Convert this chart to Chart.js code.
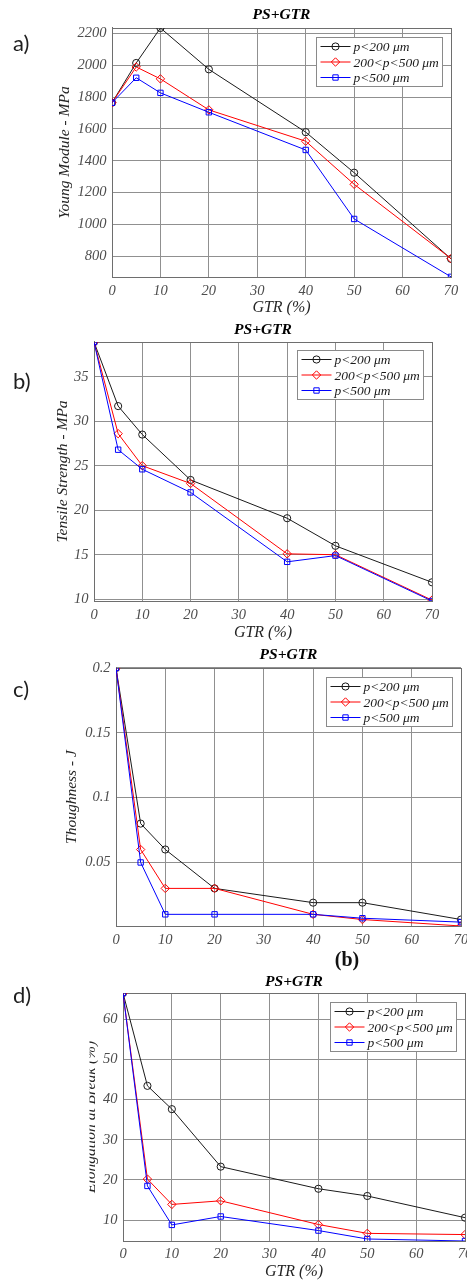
<!DOCTYPE html>
<html>
<head>
<meta charset="utf-8">
<script src="https://cdn.jsdelivr.net/npm/chart.js@4.4.1/dist/chart.umd.min.js"></script>
<style>
  body { margin: 0; background: #fff; }
  #page { position: relative; width: 467px; height: 1280px; overflow: hidden; background: #fff; }
  #page canvas { position: absolute; left: 0; }
  .tag { position: absolute; left: 13px; font: 22px Lato, "Noto Sans", sans-serif; line-height: 22px; color: #1e1e1e; }
  .sub { position: absolute; font: bold 20px "Liberation Serif", serif; line-height: 20px; color: #111;
         transform: translate(-50%, -50%); }
</style>
</head>
<body>
<div id="page">
  <canvas id="young" width="467" height="320" style="top:0px"></canvas>
  <canvas id="tensile" width="467" height="320" style="top:320px"></canvas>
  <canvas id="tough" width="467" height="320" style="top:640px"></canvas>
  <canvas id="elong" width="467" height="320" style="top:960px"></canvas>
  <div class="tag" style="top:32px">a)</div>
  <div class="tag" style="top:370px">b)</div>
  <div class="tag" style="top:678px">c)</div>
  <div class="tag" style="top:984px">d)</div>
  <div class="sub" style="left:347px;top:959px">(b)</div>
</div>
<script>
// GTR content (%) of each blend
const gtrContent = [0, 5, 10, 20, 40, 50, 70];
const gtrTicks = [0, 10, 20, 30, 40, 50, 60, 70];

// particle size series
const sizeLabels = ['p<200 \u03bcm', '200<p<500 \u03bcm', 'p<500 \u03bcm'];
const sizeColors = ['#1a1a1a', '#ff0000', '#0000ff'];
const sizeMarkers = ['circle', 'rectRot', 'rect'];
const sizeMarkerRadius = [3.6, 4.2, 3.8];

// a) Young modulus (MPa)
const youngSmall = [1765, 2015, 2235, 1975, 1580, 1325, 783];
const youngMid = [1765, 1990, 1915, 1720, 1523, 1252, 785];
const youngLarge = [1765, 1922, 1827, 1705, 1468, 1034, 670];
const youngTicks = [800, 1000, 1200, 1400, 1600, 1800, 2000, 2200];

// b) tensile strength (MPa)
const tensileSmall = [38.9, 31.7, 28.5, 23.4, 19.1, 16.0, 11.9];
const tensileMid = [38.9, 28.6, 25.0, 23.0, 15.1, 15.0, 9.9];
const tensileLarge = [38.9, 26.8, 24.6, 22.0, 14.2, 14.9, 9.8];
const tensileTicks = [10, 15, 20, 25, 30, 35];

// c) toughness (J)
const toughSmall = [0.2, 0.08, 0.06, 0.03, 0.019, 0.019, 0.006];
const toughMid = [0.2, 0.06, 0.03, 0.03, 0.01, 0.006, 0.001];
const toughLarge = [0.2, 0.05, 0.01, 0.01, 0.01, 0.007, 0.004];
const toughTicks = [0.05, 0.1, 0.15, 0.2];

// d) elongation at break (%)
const elongSmall = [66.5, 43.4, 37.6, 23.3, 17.8, 16.0, 10.6];
const elongMid = [66.5, 20.2, 13.9, 14.8, 8.9, 6.7, 6.4];
const elongLarge = [66.5, 18.5, 8.8, 10.9, 7.4, 5.3, 4.8];
const elongTicks = [10, 20, 30, 40, 50, 60];

const SERIF = '"Liberation Serif", "Times New Roman", serif';

function drawMarker(ctx, style, x, y, r) {
  ctx.beginPath();
  if (style === 'circle') {
    ctx.arc(x, y, r, 0, Math.PI * 2);
  } else if (style === 'rectRot') {
    ctx.moveTo(x, y - r); ctx.lineTo(x + r, y); ctx.lineTo(x, y + r); ctx.lineTo(x - r, y);
    ctx.closePath();
  } else {
    const s = Math.SQRT1_2 * r;
    ctx.rect(x - s, y - s, 2 * s, 2 * s);
  }
  ctx.stroke();
}

// box frame, legend and (optionally) a cropped y-axis label
const matlabBox = {
  id: 'matlabBox',
  beforeDatasetsDraw(chart) {
    const a = chart.chartArea, ctx = chart.ctx;
    ctx.save();
    ctx.strokeStyle = '#6e6e6e';
    ctx.lineWidth = 1;
    ctx.strokeRect(Math.round(a.left) + 0.5, Math.round(a.top) + 0.5,
                   Math.round(a.right - a.left), Math.round(a.bottom - a.top));
    ctx.restore();
  },
  afterDraw(chart, args, opts) {
    const a = chart.chartArea, ctx = chart.ctx;
    ctx.save();
    // legend
    const w = 126, h = 49;
    const left = Math.round(a.right - 9.5 - w) + 0.5, top = Math.round(a.top + 8.5) + 0.5;
    ctx.fillStyle = '#fff';
    ctx.fillRect(left, top, w, h);
    ctx.strokeStyle = '#8a8a8a';
    ctx.lineWidth = 1;
    ctx.strokeRect(left, top, w, h);
    chart.data.datasets.forEach((ds, i) => {
      const y = top + 9 + i * 15.5;
      ctx.strokeStyle = ds.borderColor;
      ctx.lineWidth = 1;
      ctx.beginPath();
      ctx.moveTo(left + 4, y); ctx.lineTo(left + 34, y);
      ctx.stroke();
      drawMarker(ctx, ds.pointStyle, left + 19, y, ds.pointRadius);
      ctx.fillStyle = '#1a1a1a';
      ctx.font = 'italic 13.5px ' + SERIF;
      ctx.textAlign = 'left';
      ctx.textBaseline = 'middle';
      ctx.fillText(ds.label, left + 37, y + 1);
    });
    // y label partly cut off on its left side
    if (opts.clippedTitle) {
      const t = opts.clippedTitle;
      ctx.beginPath();
      ctx.rect(t.clipLeft, 0, chart.width, chart.height);
      ctx.clip();
      ctx.translate(t.x, (a.top + a.bottom) / 2);
      ctx.rotate(-Math.PI / 2);
      ctx.fillStyle = '#262626';
      ctx.font = 'italic 15.5px ' + SERIF;
      ctx.textAlign = 'center';
      ctx.textBaseline = 'alphabetic';
      ctx.fillText(t.text, 0, 0);
    }
    ctx.restore();
  }
};

function series(values, i) {
  return {
    label: sizeLabels[i],
    data: gtrContent.map((x, k) => ({ x: x, y: values[k] })),
    borderColor: sizeColors[i],
    backgroundColor: 'rgba(0,0,0,0)',
    borderWidth: 1,
    pointStyle: sizeMarkers[i],
    pointRadius: sizeMarkerRadius[i],
    pointBorderColor: sizeColors[i],
    pointBackgroundColor: 'rgba(0,0,0,0)',
    pointBorderWidth: 1,
    tension: 0,
    order: 3 - i
  };
}

function makePanel(p) {
  const H = 320;
  const xH = H - p.bottom;
  new Chart(document.getElementById(p.id), {
    type: 'line',
    data: { datasets: [series(p.values[0], 0), series(p.values[1], 1), series(p.values[2], 2)] },
    plugins: [matlabBox],
    options: {
      responsive: false,
      animation: false,
      devicePixelRatio: 1,
      events: [],
      layout: { autoPadding: false, padding: { left: 0, top: 0, right: 467 - p.right, bottom: 0 } },
      plugins: {
        legend: { display: false },
        tooltip: { enabled: false },
        title: {
          display: true, text: 'PS+GTR', fullSize: false, color: '#000',
          font: { family: SERIF, size: 15.5, style: 'italic', weight: 'bold', lineHeight: 1.2 },
          padding: { top: p.titleTop - 9.3, bottom: p.top - (p.titleTop - 9.3) - 18.6 }
        },
        matlabBox: { clippedTitle: p.clippedTitle || null }
      },
      scales: {
        x: {
          type: 'linear', position: 'bottom', min: 0, max: 70,
          afterBuildTicks: s => { s.ticks = gtrTicks.map(v => ({ value: v })); },
          afterFit: s => { s.height = xH; s.paddingLeft = 0; s.paddingRight = 0; },
          grid: { color: '#909090', lineWidth: 1, drawTicks: false },
          border: { color: '#6e6e6e' },
          ticks: { padding: p.xPad, maxRotation: 0, autoSkip: false, color: '#4d4d4d',
                   font: { family: SERIF, size: 14.5, style: 'italic' }, callback: v => String(v) },
          title: { display: !!p.xTitle, text: p.xTitle || '', color: '#262626',
                   font: { family: SERIF, size: 16, style: 'italic' },
                   padding: { top: 0, bottom: H - p.xTitleY - 9.6 } }
        },
        y: {
          type: 'linear', min: p.yMin, max: p.yMax,
          afterBuildTicks: s => { s.ticks = p.yTicks.map(v => ({ value: v })); },
          afterFit: s => { s.width = p.left; s.paddingTop = 0; s.paddingBottom = 0; },
          grid: { color: '#909090', lineWidth: 1, drawTicks: false },
          border: { color: '#6e6e6e' },
          ticks: { padding: 5.5, autoSkip: false, color: '#4d4d4d',
                   font: { family: SERIF, size: 14.5, style: 'italic' }, callback: v => String(v) },
          title: { display: !!p.yTitle, text: p.yTitle || '', color: '#262626',
                   font: { family: SERIF, size: 15.5, style: 'italic' },
                   padding: { top: p.yTitleX - 9.3, bottom: 0 } }
        }
      }
    }
  });
}

makePanel({
  id: 'young', values: [youngSmall, youngMid, youngLarge],
  left: 112, right: 451, top: 28, bottom: 277, titleTop: 15,
  yMin: 669, yMax: 2235, yTicks: youngTicks,
  yTitle: 'Young Module - MPa', yTitleX: 65,
  xTitle: 'GTR (%)', xTitleY: 308, xPad: 5
});

makePanel({
  id: 'tensile', values: [tensileSmall, tensileMid, tensileLarge],
  left: 94, right: 432, top: 22, bottom: 281, titleTop: 10,
  yMin: 9.8, yMax: 38.9, yTicks: tensileTicks,
  yTitle: 'Tensile Strength - MPa', yTitleX: 62.7,
  xTitle: 'GTR (%)', xTitleY: 313, xPad: 5
});

makePanel({
  id: 'tough', values: [toughSmall, toughMid, toughLarge],
  left: 116, right: 461, top: 28, bottom: 286, titleTop: 15,
  yMin: 0.001, yMax: 0.2, yTicks: toughTicks,
  yTitle: 'Thoughness - J', yTitleX: 71.7,
  xPad: 5
});

makePanel({
  id: 'elong', values: [elongSmall, elongMid, elongLarge],
  left: 123, right: 465, top: 33, bottom: 281, titleTop: 21.7,
  yMin: 4.8, yMax: 66.5, yTicks: elongTicks,
  clippedTitle: { text: 'Elongation at Break (%)', x: 95, clipLeft: 89.5 },
  xTitle: 'GTR (%)', xTitleY: 311.7, xPad: 4
});
</script>
</body>
</html>
